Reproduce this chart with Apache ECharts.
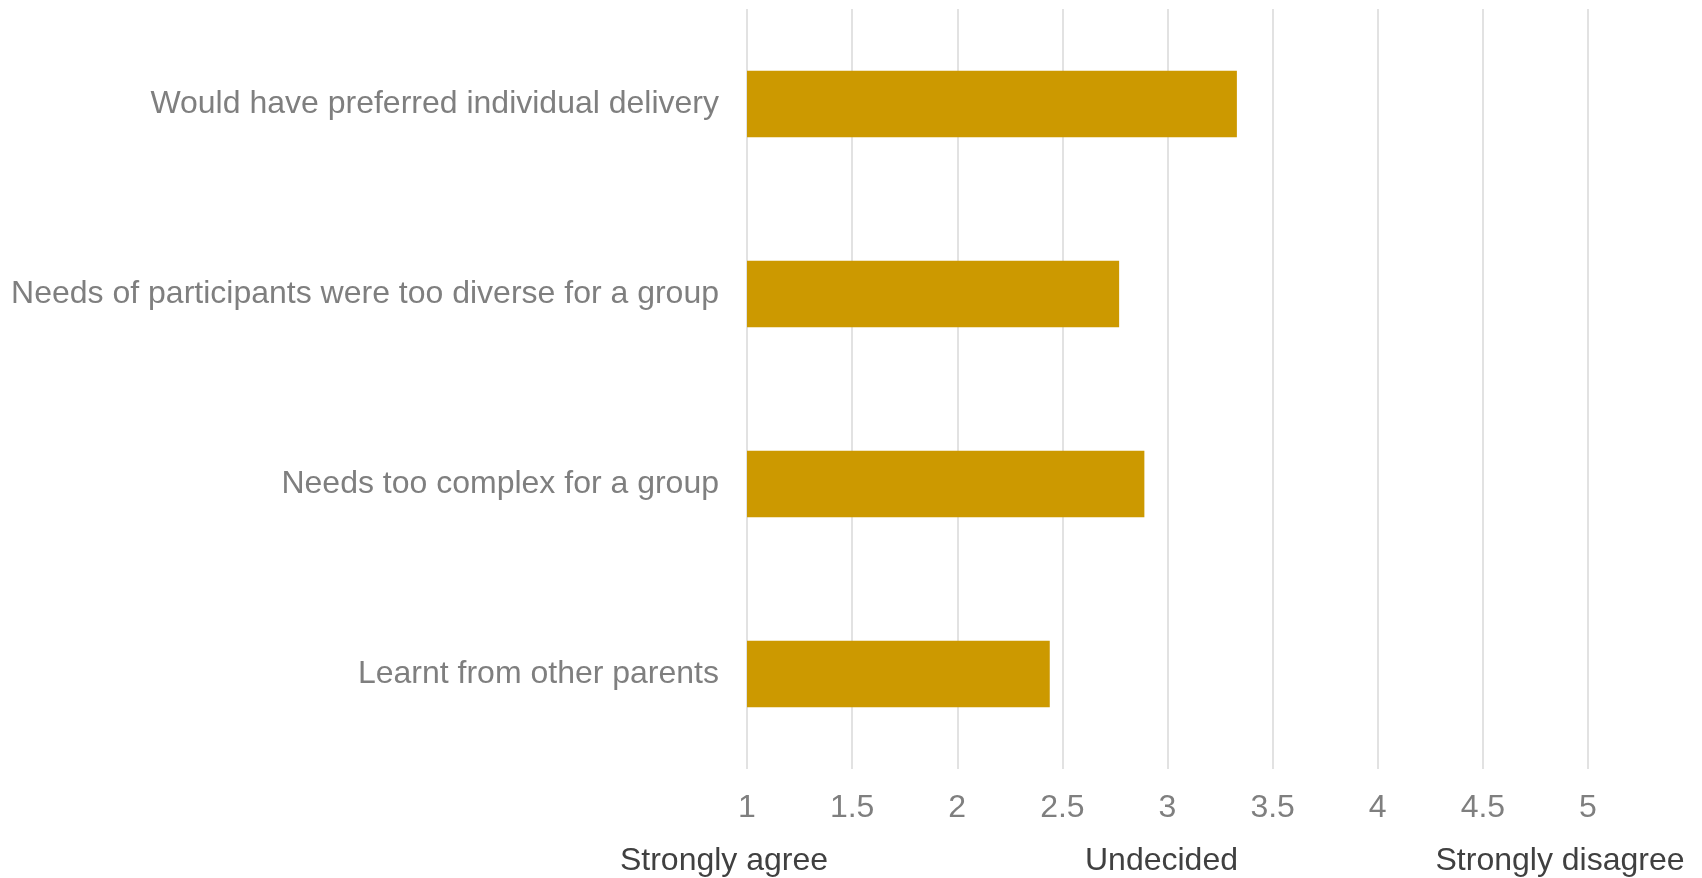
<!DOCTYPE html>
<html>
<head>
<meta charset="utf-8">
<script src="https://cdn.jsdelivr.net/npm/echarts@6/dist/echarts.min.js"></script>
<style>
  html, body { margin: 0; padding: 0; background: #ffffff; }
  #chart { width: 1702px; height: 878px; }
</style>
</head>
<body>
<div id="chart"></div>
<script>
// Survey statements (top to bottom as displayed)
const categories = [
  'Would have preferred individual delivery',
  'Needs of participants were too diverse for a group',
  'Needs too complex for a group',
  'Learnt from other parents'
];
// Mean agreement score (1 = strongly agree, 5 = strongly disagree)
const meanScores = [3.33, 2.77, 2.89, 2.44];
// Scale anchor labels shown under the axis
const anchorLabels = ['Strongly agree', 'Undecided', 'Strongly disagree'];
const anchorValues = [1, 3, 5];

const chart = echarts.init(document.getElementById('chart'));
const font = 'Liberation Sans, Arial, sans-serif';

chart.setOption({
  animation: false,
  grid: { left: 747, right: 114, top: 9, bottom: 109, containLabel: false },
  xAxis: {
    type: 'value',
    min: 1, max: 5, interval: 0.5,
    axisLine: { show: false },
    axisTick: { show: false },
    splitLine: { show: true, lineStyle: { color: '#d9d9d9', width: 1.5 } },
    axisLabel: { color: '#7f7f7f', fontSize: 32, fontFamily: font, margin: 23 }
  },
  yAxis: {
    type: 'category',
    inverse: true,
    data: categories,
    axisLine: { show: false },
    axisTick: { show: false },
    axisLabel: { color: '#7f7f7f', fontSize: 32, fontFamily: font, margin: 28, padding: [5, 0, 0, 0] }
  },
  series: [{
    type: 'bar',
    data: meanScores,
    barWidth: '35%',
    itemStyle: { color: '#cc9900' }
  }]
});

// Anchor labels beneath the numeric scale
const offsets = [-23, -6, -28];
chart.setOption({
  graphic: anchorLabels.map((t, i) => ({
    type: 'text',
    x: chart.convertToPixel({ xAxisIndex: 0 }, anchorValues[i]) + offsets[i],
    y: 861,
    style: {
      text: t,
      fill: '#404040',
      font: '32px ' + font,
      textAlign: 'center',
      textVerticalAlign: 'middle'
    }
  }))
});
</script>
</body>
</html>
